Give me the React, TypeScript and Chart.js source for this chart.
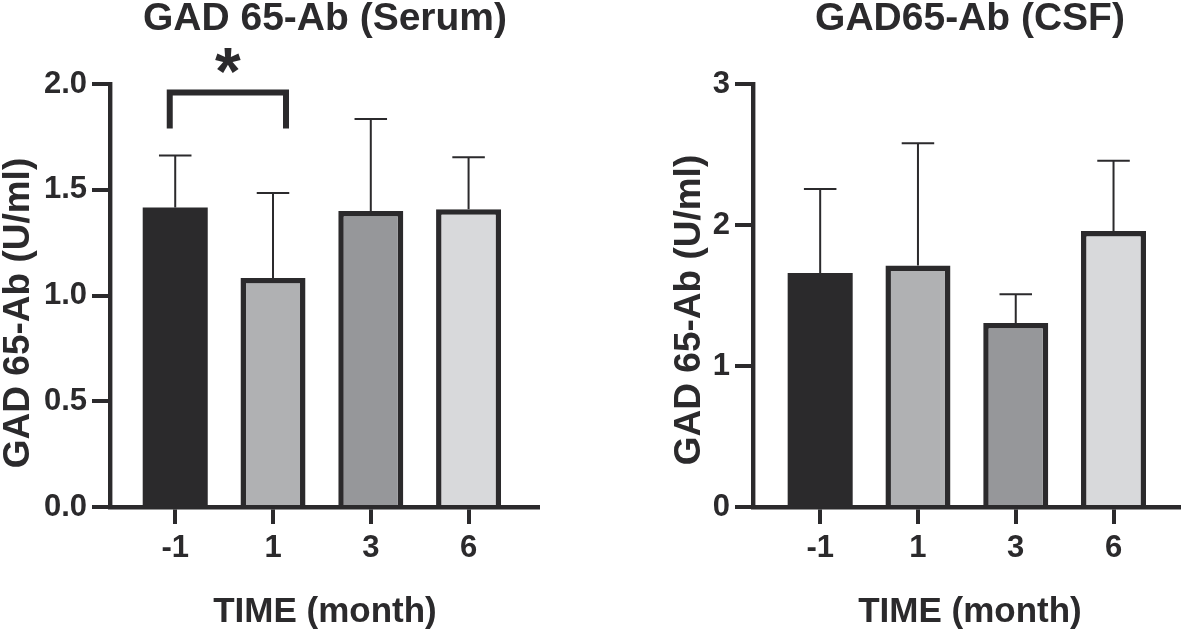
import React, { useEffect, useRef } from 'react';
import { Chart, registerables } from 'chart.js';

Chart.register(...registerables);

// Time points (months relative to treatment)
const categories = ['-1', '1', '3', '6'];

// Serum GAD65 antibody, mean and upper error (U/ml)
const serumMean = [1.416, 1.083, 1.4, 1.408];
const serumErr = [0.246, 0.402, 0.434, 0.246];

// CSF GAD65 antibody, mean and upper error (U/ml)
const csfMean = [1.66, 1.713, 1.305, 1.958];
const csfErr = [0.595, 0.866, 0.204, 0.497];

// Y-axis tick values
const serumTicks = [0, 0.5, 1.0, 1.5, 2.0];
const csfTicks = [0, 1, 2, 3];

const INK = '#2b2a2c';
const barFills = ['#2b2a2c', '#b0b1b3', '#96979a', '#d8d9db'];
const barBorders = [0, 5.5, 5.5, 5.5];
const FAMILY = '"Liberation Sans", Arial, Helvetica, sans-serif';
const HEIGHT = 630;

type Bracket = { x0: number; x1: number; top: number; bottom: number; starX: number; starY: number; label: string };

type PanelProps = {
  title: string;
  means: number[];
  errs: number[];
  yTicks: number[];
  yMax: number;
  decimals: number;
  width: number;
  areaLeft: number;
  areaRight: number;
  areaTop: number;
  areaBottom: number;
  xMin: number;
  xMax: number;
  titleX: number;
  yTitleX: number;
  yTitleY: number;
  xTitleX: number;
  bracket?: Bracket;
};

function makeDecor(p: PanelProps) {
  return {
    id: 'panelDecor',
    afterDatasetsDraw(chart: any) {
      const ctx = chart.ctx;
      const meta = chart.getDatasetMeta(0);
      const y = chart.scales.y;
      ctx.save();
      ctx.strokeStyle = INK;
      ctx.lineWidth = 2;
      ctx.lineCap = 'butt';
      meta.data.forEach((bar: any, i: number) => {
        const base = y.getPixelForValue(p.means[i]);
        const top = y.getPixelForValue(p.means[i] + p.errs[i]);
        const half = bar.width * 0.25;
        ctx.beginPath();
        ctx.moveTo(bar.x, base);
        ctx.lineTo(bar.x, top);
        ctx.moveTo(bar.x - half, top);
        ctx.lineTo(bar.x + half, top);
        ctx.stroke();
      });
      ctx.restore();
    },
    afterDraw(chart: any) {
      const ctx = chart.ctx;
      const xs = chart.scales.x;
      const ys = chart.scales.y;
      ctx.save();
      ctx.fillStyle = INK;
      ctx.textAlign = 'center';
      ctx.textBaseline = 'alphabetic';

      // Panel title
      ctx.font = `bold 39px ${FAMILY}`;
      ctx.fillText(p.title, p.titleX, 30);

      // X-axis title
      ctx.font = `bold 35px ${FAMILY}`;
      ctx.fillText('TIME (month)', p.xTitleX, 622);

      // Y-axis title (rotated)
      ctx.save();
      ctx.translate(p.yTitleX, p.yTitleY);
      ctx.rotate(-Math.PI / 2);
      ctx.font = `bold 37px ${FAMILY}`;
      ctx.fillText('GAD 65-Ab (U/ml)', 0, 0);
      ctx.restore();

      // Significance bracket
      if (p.bracket) {
        const b = p.bracket;
        const xl = xs.getPixelForValue(b.x0);
        const xr = xs.getPixelForValue(b.x1);
        const yt = ys.getPixelForValue(b.top);
        const yb = ys.getPixelForValue(b.bottom);
        ctx.strokeStyle = INK;
        ctx.lineWidth = 6;
        ctx.lineJoin = 'miter';
        ctx.lineCap = 'butt';
        ctx.beginPath();
        ctx.moveTo(xl, yb);
        ctx.lineTo(xl, yt);
        ctx.lineTo(xr, yt);
        ctx.lineTo(xr, yb);
        ctx.stroke();

        ctx.font = `bold 66px ${FAMILY}`;
        const m = ctx.measureText(b.label);
        const cx = xs.getPixelForValue(b.starX);
        const cy = ys.getPixelForValue(b.starY);
        const asc = m.actualBoundingBoxAscent;
        const desc = m.actualBoundingBoxDescent;
        ctx.fillText(b.label, cx, cy + (asc - desc) / 2);
      }
      ctx.restore();
    },
  };
}

function BarPanel(p: PanelProps) {
  const ref = useRef<HTMLCanvasElement | null>(null);

  useEffect(() => {
    if (!ref.current) return;
    const tickFont = { family: FAMILY, size: 31, weight: 'bold' as const };
    const chart = new Chart(ref.current, {
      type: 'bar',
      data: {
        datasets: [
          {
            data: p.means.map((v, i) => ({ x: i, y: v })),
            backgroundColor: barFills,
            borderColor: INK,
            borderWidth: barBorders,
            barPercentage: 0.665,
            categoryPercentage: 1,
          },
        ],
      },
      options: {
        responsive: false,
        animation: false,
        devicePixelRatio: 1,
        layout: {
          padding: { top: p.areaTop, left: 0, right: p.width - p.areaRight, bottom: 0 },
        },
        plugins: {
          legend: { display: false },
          title: { display: false },
          tooltip: { enabled: false },
        },
        scales: {
          x: {
            type: 'linear',
            min: p.xMin,
            max: p.xMax,
            offset: false,
            z: 1,
            afterBuildTicks: (s: any) => {
              s.ticks = categories.map((_, i) => ({ value: i }));
            },
            afterFit: (s: any) => {
              s.height = HEIGHT - p.areaBottom;
            },
            grid: {
              display: true,
              offset: false,
              drawOnChartArea: false,
              drawTicks: true,
              tickLength: 17,
              lineWidth: 4,
              color: INK,
            },
            border: { display: true, color: INK, width: 4.4 },
            ticks: {
              autoSkip: false,
              maxRotation: 0,
              minRotation: 0,
              padding: 6,
              color: INK,
              font: tickFont,
              callback: (v: any) => categories[Math.round(Number(v))] ?? '',
            },
          },
          y: {
            type: 'linear',
            min: 0,
            max: p.yMax,
            z: 1,
            afterBuildTicks: (s: any) => {
              s.ticks = p.yTicks.map((v) => ({ value: v }));
            },
            afterFit: (s: any) => {
              s.width = p.areaLeft;
            },
            grid: {
              display: true,
              drawOnChartArea: false,
              drawTicks: true,
              tickLength: 18,
              lineWidth: 4,
              color: INK,
            },
            border: { display: true, color: INK, width: 4.4 },
            ticks: {
              padding: 5,
              color: INK,
              font: tickFont,
              callback: (v: any) => Number(v).toFixed(p.decimals),
            },
          },
        },
      },
      plugins: [makeDecor(p)],
    } as any);
    return () => chart.destroy();
  }, []);

  return <canvas ref={ref} width={p.width} height={HEIGHT} style={{ display: 'block', width: p.width, height: HEIGHT }} />;
}

export default function App() {
  return (
    <div
      style={{
        position: 'absolute',
        left: 0,
        top: 0,
        width: 1181,
        height: HEIGHT,
        display: 'flex',
        background: '#ffffff',
        overflow: 'hidden',
      }}
    >
      <BarPanel
        title="GAD 65-Ab (Serum)"
        means={serumMean}
        errs={serumErr}
        yTicks={serumTicks}
        yMax={2}
        decimals={1}
        width={590}
        areaLeft={110}
        areaRight={538}
        areaTop={84}
        areaBottom={507}
        xMin={-0.667}
        xMax={3.71}
        titleX={325}
        yTitleX={29}
        yTitleY={313}
        xTitleX={325}
        bracket={{ x0: -0.056, x1: 1.133, top: 1.96, bottom: 1.79, starX: 0.537, starY: 2.109, label: '*' }}
      />
      <BarPanel
        title="GAD65-Ab (CSF)"
        means={csfMean}
        errs={csfErr}
        yTicks={csfTicks}
        yMax={3}
        decimals={0}
        width={591}
        areaLeft={163}
        areaRight={591}
        areaTop={84}
        areaBottom={507}
        xMin={-0.687}
        xMax={3.69}
        titleX={380}
        yTitleX={110}
        yTitleY={310}
        xTitleX={380}
      />
    </div>
  );
}
